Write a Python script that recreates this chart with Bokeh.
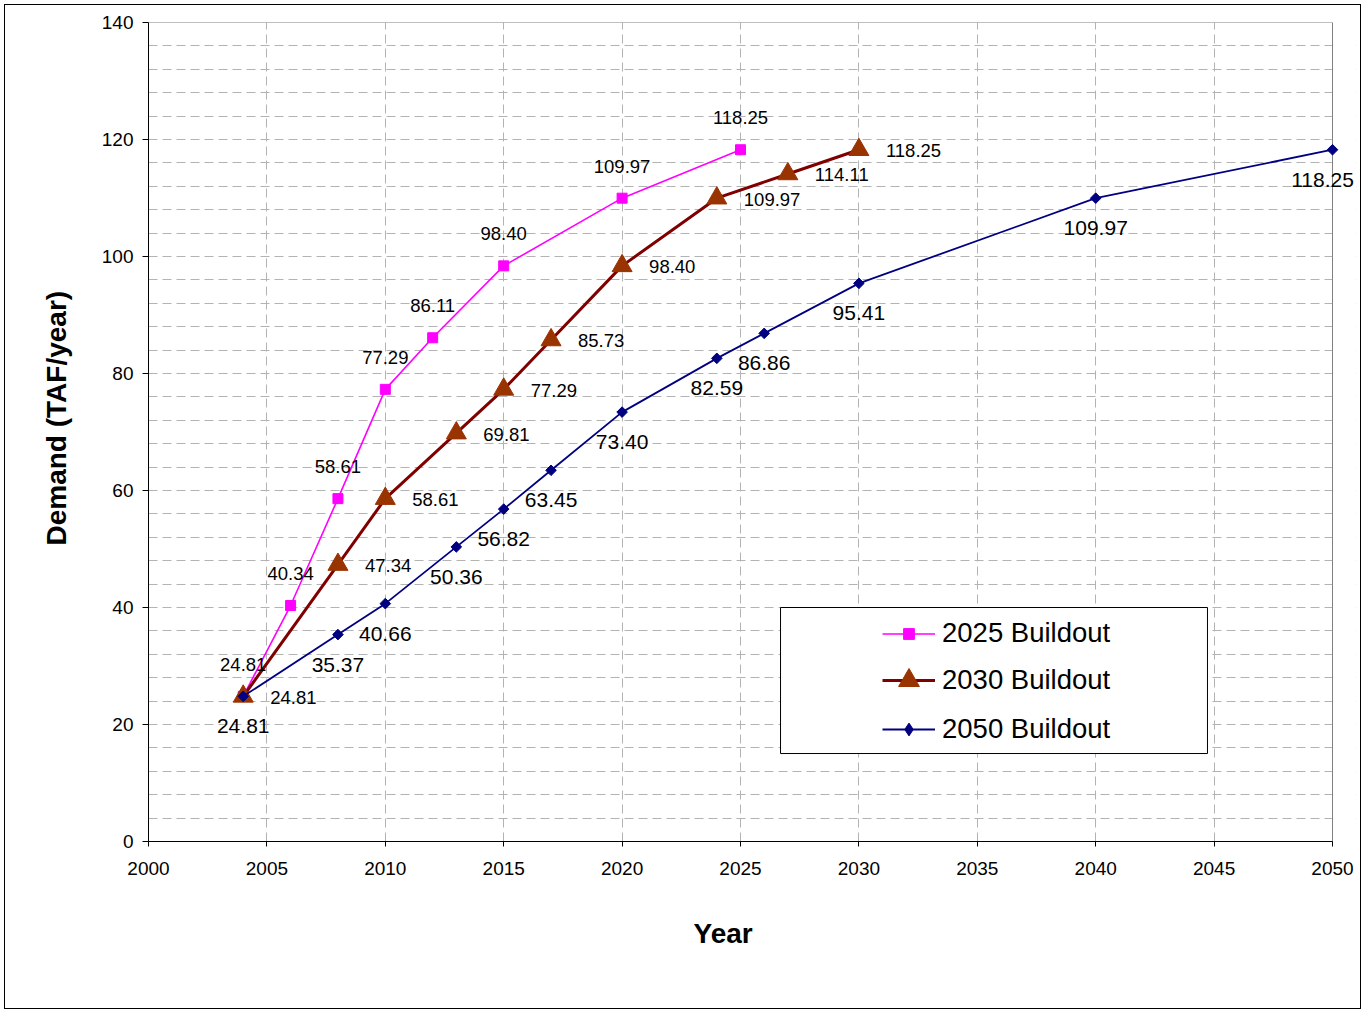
import math
from bokeh.plotting import figure
from bokeh.models import (ColumnDataSource, Range1d, FixedTicker, LabelSet,
                          Legend, LegendItem, BoxAnnotation, Title)
from bokeh.core.properties import value
from bokeh.embed import file_html
from bokeh.resources import INLINE

# ---------------- data ----------------
series_names = ["2025 Buildout", "2030 Buildout", "2050 Buildout"]

years_2025 = [2004, 2006, 2008, 2010, 2012, 2015, 2020, 2025]
demand_2025 = [24.81, 40.34, 58.61, 77.29, 86.11, 98.40, 109.97, 118.25]

years_2030 = [2004, 2008, 2010, 2013, 2015, 2017, 2020, 2024, 2027, 2030]
demand_2030 = [24.81, 47.34, 58.61, 69.81, 77.29, 85.73, 98.40, 109.97, 114.11, 118.25]

years_2050 = [2004, 2008, 2010, 2013, 2015, 2017, 2020, 2024, 2026, 2030, 2040, 2050]
demand_2050 = [24.81, 35.37, 40.66, 50.36, 56.82, 63.45, 73.40, 82.59, 86.86, 95.41, 109.97, 118.25]

x_ticks = list(range(2000, 2051, 5))
y_ticks = list(range(0, 141, 20))
y_grid_step = 4

x_title = "Year"
y_title = "Demand (TAF/year)"

FONT = "Liberation Sans"

# ---------------- layout ----------------
W, H = 1357, 1005
B_LEFT, B_RIGHT, B_TOP, B_BOTTOM = 143, 6, 17, 169
FRAME_W = W - B_LEFT - B_RIGHT
PX_PER_YEAR = 1184 / 50.0
X_END = 2000 + FRAME_W / PX_PER_YEAR   # frame runs a little past 2050 so edge marks/labels are not clipped

p = figure(width=W, height=H, output_backend="svg", toolbar_location=None,
           x_range=Range1d(2000, X_END), y_range=Range1d(0, 140),
           min_border_left=B_LEFT, min_border_right=B_RIGHT, min_border_top=B_TOP,
           min_border_bottom=B_BOTTOM)
p.styles = {"border": "1px solid #000000", "margin-left": "4px", "margin-top": "4px"}
p.outline_line_color = None
p.background_fill_color = "white"
p.border_fill_color = "white"

# grids
p.xgrid.ticker = FixedTicker(ticks=x_ticks)
p.ygrid.ticker = FixedTicker(ticks=list(range(0, 141, y_grid_step)))
for g in (p.xgrid, p.ygrid):
    g.grid_line_color = "#b3b3b3"
    g.grid_line_dash = "9 5"
    g.grid_line_width = 1

# white cover beyond 2050 and plot-area border
p.add_layout(BoxAnnotation(left=2050, fill_color="white", fill_alpha=1,
                           line_alpha=0, level="underlay"))
p.add_layout(BoxAnnotation(left=2000, right=2050, bottom=0, top=140,
                           fill_alpha=0, line_color="#808080", line_alpha=1,
                           line_width=1, level="underlay"))

# axes
p.xaxis.ticker = FixedTicker(ticks=x_ticks)
p.xaxis.bounds = (2000, 2050)
p.yaxis.ticker = FixedTicker(ticks=y_ticks)
for ax in (p.xaxis, p.yaxis):
    ax.axis_line_color = "black"
    ax.major_tick_line_color = "black"
    ax.minor_tick_line_color = None
    ax.major_tick_in = 0
    ax.major_label_text_font = FONT
    ax.major_label_text_font_size = "19px"
    ax.major_label_text_color = "black"
p.xaxis.major_tick_out = 5
p.yaxis.major_tick_out = 6
p.xaxis.major_label_standoff = 15
p.yaxis.major_label_standoff = 9

# axis titles (as titles so they can be placed like the original)
p.add_layout(Title(text=x_title, align="left", offset=545, standoff=76,
                   text_font=FONT, text_font_style="bold", text_font_size="28px",
                   text_color="black"), "below")
p.add_layout(Title(text=y_title, align="left", offset=296, standoff=53,
                   text_font=FONT, text_font_style="bold", text_font_size="28px",
                   text_color="black"), "left")

# ---------------- series ----------------
def fmt(vals):
    return [f"{v:.2f}" for v in vals]

src25 = ColumnDataSource(dict(x=years_2025, y=demand_2025, label=fmt(demand_2025)))
src30 = ColumnDataSource(dict(x=years_2030, y=demand_2030, label=fmt(demand_2030)))
xoff50 = [0] * (len(years_2050) - 1) + [-10]
src50 = ColumnDataSource(dict(x=years_2050, y=demand_2050, label=fmt(demand_2050), xoff=xoff50))

l25 = p.line("x", "y", source=src25, line_color="#FF00FF", line_width=1.6)
m25 = p.scatter("x", "y", source=src25, marker="square", size=10,
                fill_color="#FF00FF", line_color="#FF00FF")

l30 = p.line("x", "y", source=src30, line_color="#800000", line_width=3)
m30 = p.scatter("x", "y", source=src30, marker="triangle", size=20,
                fill_color="#993300", line_color="#993300")

l50 = p.line("x", "y", source=src50, line_color="#000080", line_width=1.8)
m50 = p.scatter("x", "y", source=src50, marker="square", angle=math.pi / 4, size=7.5,
                fill_color="#000080", line_color="#000080")
# legend-only marker (not drawn in the plot: NaN position)
d50 = p.scatter(x=[float("nan")], y=[float("nan")], marker="diamond", size=11,
                fill_color="#000080", line_color="#000080")

# ---------------- data labels ----------------
p.add_layout(LabelSet(x="x", y="y", text="label", source=src25, x_offset=0, y_offset=32,
                      text_align="center", text_baseline="middle",
                      text_font=value(FONT), text_font_size="18.5px", text_color="black"))
p.add_layout(LabelSet(x="x", y="y", text="label", source=src30, x_offset=27, y_offset=-1,
                      text_align="left", text_baseline="middle",
                      text_font=value(FONT), text_font_size="18.5px", text_color="black"))
p.add_layout(LabelSet(x="x", y="y", text="label", source=src50, x_offset="xoff", y_offset=-30,
                      text_align="center", text_baseline="middle",
                      text_font=value(FONT), text_font_size="21px", text_color="black"))

# ---------------- legend ----------------
p.add_layout(BoxAnnotation(left=2026.69, right=2044.72, bottom=15.04, top=40.0,
                           fill_color="white", fill_alpha=1, line_color="black",
                           line_alpha=1, line_width=1))

def make_legend(name, renderers, gh, loc_y):
    return Legend(items=[LegendItem(label=name, renderers=renderers)],
                  location=(734, loc_y), glyph_width=53, glyph_height=gh,
                  label_height=gh, label_standoff=7, padding=0, margin=0, spacing=0,
                  border_line_alpha=0, background_fill_alpha=0,
                  label_text_font=FONT, label_text_font_size="27.5px",
                  label_text_color="black")

p.add_layout(make_legend(series_names[0], [l25, m25], 27, 192))
p.add_layout(make_legend(series_names[1], [l30, m30], 52, 135))
p.add_layout(make_legend(series_names[2], [l50, d50], 32, 96))

open("out.html", "w").write(file_html(p, INLINE))
